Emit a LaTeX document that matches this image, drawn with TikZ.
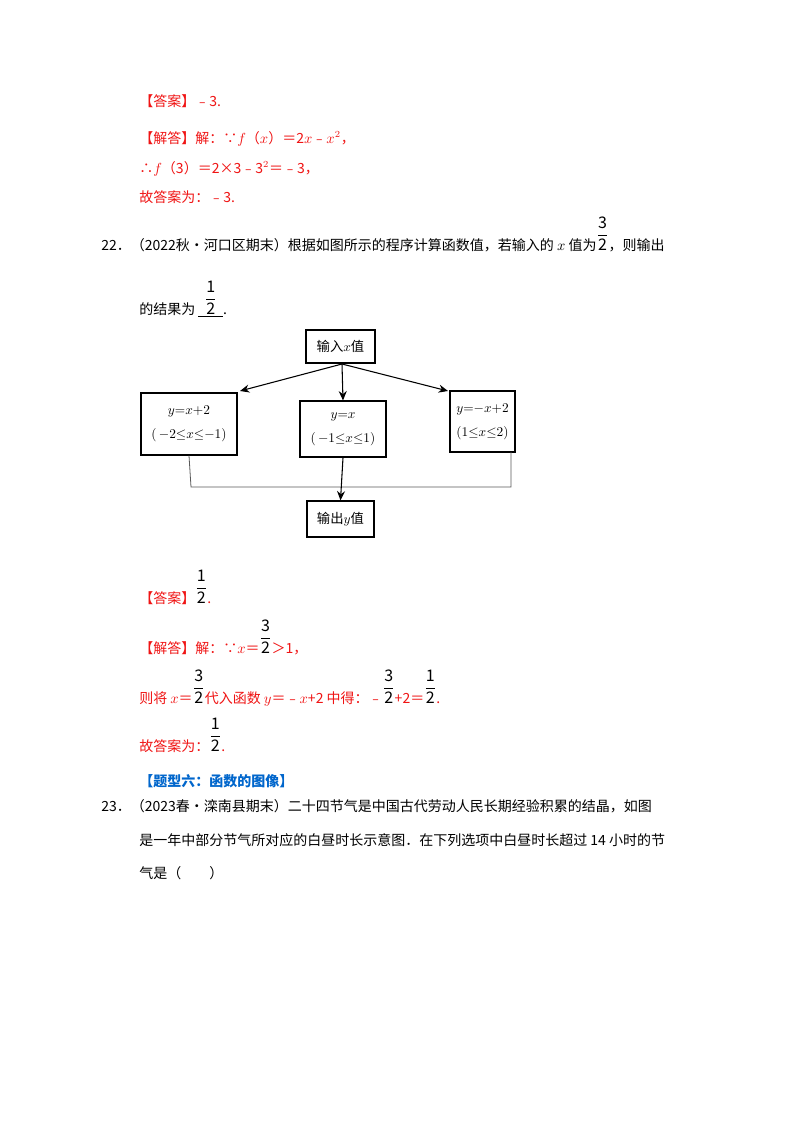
\documentclass[tikz,border=0pt]{standalone}
\usepackage{amsmath}
\usepackage{fontspec}
\setmainfont{Noto Sans CJK SC}
\usetikzlibrary{arrows.meta}
\definecolor{ans}{RGB}{240,20,20}
\definecolor{ttl}{RGB}{0,102,204}
\newcommand\fr[2]{\raisebox{\depth}{\color{black}\large$\dfrac{\mathrm{#1}}{\mathrm{#2}}$}}
\begin{document}
\begin{tikzpicture}[x=0.75pt,y=-0.75pt,
  t/.style={anchor=base west,inner sep=0pt,font=\fontsize{10.5}{12}\selectfont},
  r/.style={t,text=ans},
  box/.style={draw,line width=0.9pt,inner sep=0pt,align=center,font=\fontsize{10}{18}\selectfont},
  arr/.style={-{Stealth[length=7pt,width=6pt]},line width=0.8pt},
  ln/.style={line width=0.6pt,gray!70!black}]
\useasboundingbox[fill=white] (0,0) rectangle (800,1132);
\node[r] (a1) at (139,106) {【答案】﹣3.};
\node[r] (a2) at (139,143) {【解答】解：∵$f$（$x$）＝2$x$﹣$x^2$，};
\node[r] (a3) at (139,173) {∴$f$（3）＝2×3﹣3$^2$＝﹣3，};
\node[r] (a4) at (139,202) {故答案为：﹣3.};
\node[t] (q1) at (101,250) {22．（2022秋•河口区期末）根据如图所示的程序计算函数值，若输入的 $x$ 值为\fr32，则输出};
\node[t] (q2) at (139,314) {的结果为 \underline{\ \ \fr12\ \ }.};
% flowchart
\node[box,minimum width=51.75pt,minimum height=24.75pt] (in) at (340.5,346.5) {输入$x$值};
\node[box,minimum width=72pt,minimum height=46.5pt] (L) at (189,424) {$y{=}x{+}2$\\$(\,{-}2{\le}x{\le}{-}1)$};
\node[box,minimum width=64.5pt,minimum height=42pt] (M) at (343,429) {$y{=}x$\\$(\,{-}1{\le}x{\le}1)$};
\node[box,minimum width=48.75pt,minimum height=45.75pt] (R) at (482.5,421.5) {$y{=}{-}x{+}2$\\$(1{\le}x{\le}2)$};
\node[box,minimum width=50.25pt,minimum height=27pt] (out) at (340.5,519) {输出$y$值};
\coordinate (inB) at (342,364);
\coordinate (lt) at (240,391);
\coordinate (rt) at (448,391);
\draw[arr] (inB) -- (lt);
\draw[arr] (inB) -- (M.north);
\draw[arr] (inB) -- (rt);
\draw[ln] (L.south) -- (191,487) -- (511,487) -- (511,452);
\draw[arr] (M.south) -- (out.north);
% answers
\node[r] (b1) at (139,603) {【答案】\fr12.};
\node[r] (b2) at (139,653) {【解答】解：∵$x$＝\fr32＞1，};
\node[r] (b3) at (139,703) {则将 $x$＝\fr32代入函数 $y$＝﹣$x$+2 中得：﹣\fr32+2＝\fr12.};
\node[r] (b4) at (139,751) {故答案为：\fr12.};
\node[t,text=ttl,font=\fontsize{10.5}{12}\selectfont\bfseries] (h) at (139,786) {【题型六：函数的图像】};
\node[t] (c1) at (101,811) {23．（2023春•滦南县期末）二十四节气是中国古代劳动人民长期经验积累的结晶，如图};
\node[t] (c2) at (139,845) {是一年中部分节气所对应的白昼时长示意图．在下列选项中白昼时长超过 14 小时的节};
\node[t] (c3) at (139,878) {气是（　　）};
\end{tikzpicture}
\end{document}
